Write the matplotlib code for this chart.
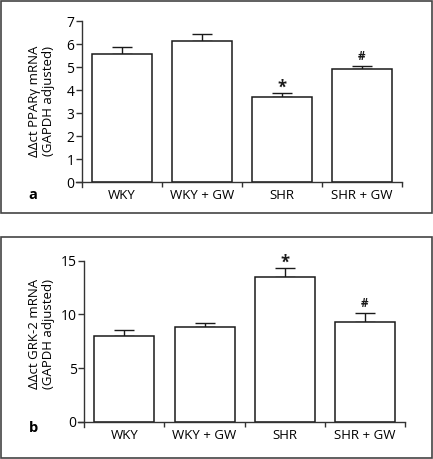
import matplotlib
matplotlib.use("Agg")
import matplotlib.pyplot as plt
from matplotlib.patches import Rectangle

plt.rcParams["font.family"] = ["Open Sans", "DejaVu Sans"]

groups = ["WKY", "WKY + GW", "SHR", "SHR + GW"]

# panel a: PPARgamma
ppar_mean = [5.59, 6.13, 3.69, 4.94]
ppar_err = [0.29, 0.33, 0.19, 0.12]
ppar_marks = ["", "", "*", "#"]

# panel b: GRK-2
grk_mean = [7.95, 8.79, 13.45, 9.29]
grk_err = [0.65, 0.37, 0.90, 0.84]
grk_marks = ["", "", "*", "#"]

W, H = 433, 459
fig = plt.figure(figsize=(W / 100, H / 100), dpi=100)


def px(x0, y0, x1, y1):
    # pixel box (top-left origin) -> figure fraction rect
    return [x0 / W, 1 - y1 / H, (x1 - x0) / W, (y1 - y0) / H]


def panel(rect, means, errs, marks, ymax, ystep, ybot, ylabel, letter, letter_y, ylab_y):
    ax = fig.add_axes(rect)
    x = [i + 0.5 for i in range(len(groups))]
    ax.bar(x, means, width=0.75, color="white", edgecolor="#1a1a1a",
           linewidth=1.1, zorder=2)
    ax.errorbar(x, means, yerr=[[0] * len(errs), errs], fmt="none",
                ecolor="#1a1a1a", elinewidth=1.0, capsize=7, capthick=1.0, zorder=1)
    for xi, m, e, s in zip(x, means, errs, marks):
        if s == "*":
            ax.annotate(s, (xi, m + e), xytext=(0, 3.5), textcoords="offset points",
                        ha="center", va="center", fontsize=12, fontweight="bold",
                        color="#1a1a1a")
        elif s:
            ax.annotate(s, (xi, m + e), xytext=(0, 7), textcoords="offset points",
                        ha="center", va="center", fontsize=8.5, fontweight="bold",
                        color="#1a1a1a")
    ax.set_xlim(-0.075, 4)
    ax.set_ylim(ybot, ymax)
    for s in ("top", "right"):
        ax.spines[s].set_visible(False)
    ax.spines["left"].set_position(("data", 0))
    ax.spines["bottom"].set_position(("data", 0))
    for s in ("left", "bottom"):
        ax.spines[s].set_linewidth(1.0)
        ax.spines[s].set_color("#333333")
    ax.set_yticks(range(0, int(ymax) + 1, ystep))
    ax.set_xticks([1, 2, 3, 4])
    ax.set_xticklabels([])
    ax.set_xticks(x, minor=True)
    ax.set_xticklabels(groups, minor=True, fontsize=9.5)
    ax.tick_params(axis="x", which="major", direction="out", length=3.5,
                   width=1.0, color="#333333")
    ax.tick_params(axis="x", which="minor", length=0, pad=5)
    ax.tick_params(axis="y", direction="out", length=4, width=1.0,
                   color="#333333", labelsize=10, pad=1.5)
    ax.patch.set_visible(False)
    fig.text(41.5 / W, 1 - ylab_y / H, ylabel, rotation=90, ha="center",
             va="center", fontsize=9.5, linespacing=1.1)
    fig.text(33 / W, 1 - letter_y / H, letter, ha="center", va="center",
             fontsize=10.5, fontweight="bold")
    return ax


panel(px(76, 21.3, 402, 186.9), ppar_mean, ppar_err, ppar_marks, 7, 1, -0.2,
      "\u0394\u0394ct PPAR\u03b3 mRNA\n(GAPDH adjusted)", "a", 195, 101)
panel(px(78.3, 260.7, 405, 426.8), grk_mean, grk_err, grk_marks, 15, 5, -0.45,
      "\u0394\u0394ct GRK-2 mRNA\n(GAPDH adjusted)", "b", 428, 334)

# panel frames
for (x0, y0, x1, y1) in [(0.8, 0.8, 432, 213), (0.8, 237, 432, 458.2)]:
    fig.patches.append(Rectangle((x0 / W, 1 - y1 / H), (x1 - x0) / W, (y1 - y0) / H,
                                 transform=fig.transFigure, fill=False,
                                 edgecolor="#444444", linewidth=1.2))

fig.savefig("out.png", dpi=100)
